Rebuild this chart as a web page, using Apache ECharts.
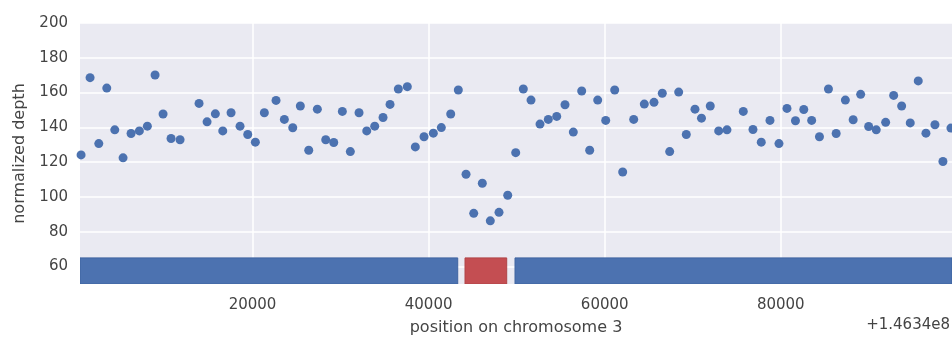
<!DOCTYPE html>
<html>
<head>
<meta charset="utf-8">
<script src="https://cdn.jsdelivr.net/npm/echarts@6/dist/echarts.min.js"></script>
<style>
  html, body { margin: 0; padding: 0; background: #fff; }
  #chart { width: 952px; height: 337px; }
</style>
</head>
<body>
<div id="chart"></div>
<script>
// window positions (offset from 1.4634e8) and normalized depth
const positions = [522, 1544, 2533, 3441, 4350, 5292, 6201, 7144, 8052, 8927, 9835, 10744, 11766,
  13924, 14833, 15775, 16616, 17558,
  18580, 19455, 20318, 21340, 22669, 23612, 24566, 25429, 26383, 27359, 28313, 29222, 30199, 31107, 32095, 32970, 33878, 34821, 35616,
  36559, 37581, 38490, 39478, 40534, 41443, 42510, 43373, 44248, 45122, 46099, 47007, 47995, 48984, 49892, 50755, 51630, 52652,
  53594, 54549, 55491, 56434, 57388, 58296, 59205, 60114, 61136, 62044, 63294, 64498, 65599, 66542, 67382, 68405, 69268, 70256, 70994,
  71993, 72947, 73890, 75741, 76842, 77785, 78773, 79795, 80704, 81669, 82612, 83509, 84395, 85417, 86292, 87337, 88222,
  89074, 89982, 90846, 91913, 92822, 93731, 94707, 95616, 96490, 97512, 98421, 99330];
const depth = [124.2, 168.6, 130.7, 162.6, 138.6, 122.5, 136.5, 138, 140.7, 170.1, 147.7, 133.6, 132.9,
  153.8, 143.2, 147.8, 138, 148.4,
  140.7, 135.9, 131.5, 148.4, 155.5, 144.6, 139.8, 152.3, 126.9, 150.5, 132.9, 131.3, 149.2, 126.1, 148.4, 138, 140.7, 145.7, 153.2,
  162.1, 163.4, 128.8, 134.6, 136.7, 139.9, 147.7, 161.5, 113.1, 90.6, 107.9, 86.3, 91.2, 101, 125.5, 162.1, 155.7, 141.9,
  144.6, 146.3, 153, 137.3, 160.9, 126.9, 155.7, 144, 161.5, 114.4, 144.6, 153.4, 154.4, 159.6, 126.1, 160.3, 135.9, 150.5, 145.3,
  152.3, 138, 138.6, 149.2, 138.8, 131.5, 144, 130.7, 150.9, 143.8, 150.3, 144, 134.6, 162.1, 136.5, 155.7, 144.4,
  159, 140.5, 138.6, 142.9, 158.4, 152.3, 142.6, 166.7, 136.7, 141.5, 120.4, 139.6];

// copy-number segments drawn as bars along the bottom
const segStart = [400, 44133, 49813];
const segEnd = [43305, 48870, 100000];
const segState = ['normal', 'deletion', 'normal'];
const segLow = 50;
const segHigh = 65;

const xTicks = [20000, 40000, 60000, 80000];
const yTicks = [60, 80, 100, 120, 140, 160, 180, 200];

const BLUE = '#4c72b0';
const RED = '#c44e52';
const TEXT = '#444';
const FONT = 'DejaVu Sans';

const chart = echarts.init(document.getElementById('chart'));

chart.setOption({
  animation: false,
  textStyle: { fontFamily: FONT },
  grid: {
    left: 80, right: 0, top: 23, bottom: 53,
    outerBoundsMode: 'none',
    show: true, backgroundColor: '#eaeaf2', borderWidth: 0
  },
  xAxis: {
    type: 'value',
    min: 400,
    max: 99450,
    name: 'position on chromosome 3',
    nameLocation: 'middle',
    nameGap: 36,
    nameTextStyle: { color: TEXT, fontSize: 16, fontFamily: FONT },
    axisLine: { show: false },
    axisTick: { show: false, customValues: xTicks },
    axisLabel: {
      customValues: xTicks,
      color: TEXT, fontSize: 15, margin: 14,
      formatter: (v) => String(v)
    },
    splitLine: { show: true, lineStyle: { color: '#fff', width: 1.5 } }
  },
  yAxis: {
    type: 'value',
    min: 50,
    max: 200,
    name: 'normalized depth',
    nameLocation: 'middle',
    nameGap: 52,
    nameTextStyle: { color: TEXT, fontSize: 16, fontFamily: FONT },
    axisLine: { show: false },
    axisTick: { show: false, customValues: yTicks },
    axisLabel: { customValues: yTicks, color: TEXT, fontSize: 15, margin: 12 },
    splitLine: { show: true, lineStyle: { color: '#fff', width: 1.5 } }
  },
  graphic: [{
    type: 'text',
    right: 2,
    bottom: 4,
    style: { text: '+1.4634e8', fill: TEXT, font: '15px "DejaVu Sans"' }
  }],
  series: [
    {
      type: 'custom',
      clip: true,
      z: 1,
      data: segStart.map((s, i) => [s, segEnd[i], segState[i]]),
      renderItem: (params, api) => {
        const p0 = api.coord([api.value(0), segHigh]);
        const p1 = api.coord([api.value(1), segLow]);
        const isDel = segState[params.dataIndex] === 'deletion';
        const rect = echarts.graphic.clipRectByRect(
          { x: p0[0], y: p0[1], width: p1[0] - p0[0], height: p1[1] - p0[1] },
          params.coordSys
        );
        return rect && {
          type: 'rect',
          shape: rect,
          style: {
            fill: isDel ? RED : BLUE,
            stroke: isDel ? '#b04448' : '#3f64a0',
            lineWidth: 1
          }
        };
      }
    },
    {
      type: 'scatter',
      z: 3,
      symbolSize: 9,
      itemStyle: { color: BLUE, opacity: 1 },
      data: positions.map((x, i) => [x, depth[i]])
    }
  ]
});

window.addEventListener('resize', () => chart.resize());
</script>
</body>
</html>
